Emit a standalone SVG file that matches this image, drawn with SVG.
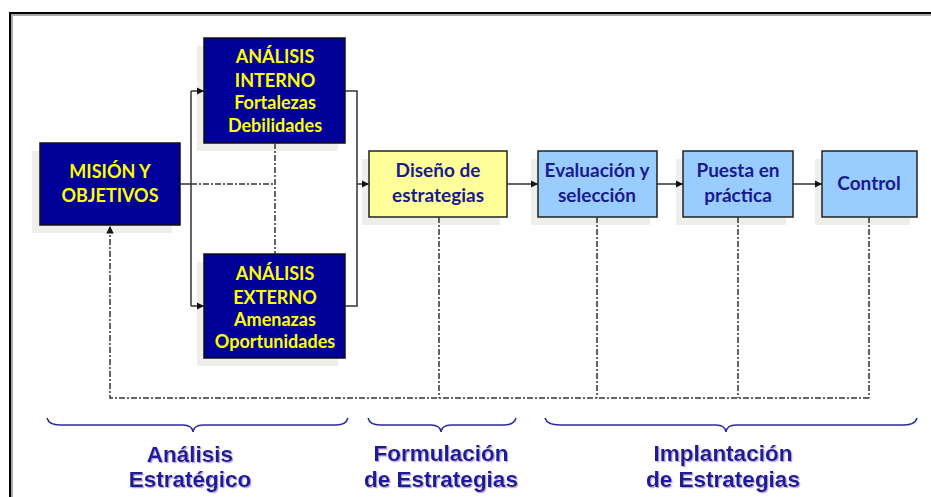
<svg xmlns="http://www.w3.org/2000/svg" width="931" height="497" viewBox="0 0 931 497">
<style>
.shadow{fill:#eeeeea}
.dark{fill:#000099;stroke:#111;stroke-width:1.5}
.yel{fill:#ffff99;stroke:#222;stroke-width:1.5}
.blu{fill:#99ccff;stroke:#222;stroke-width:1.5}
.tw{font-family:Lato,"Liberation Sans",sans-serif;font-weight:bold;font-size:18px;fill:#ffff00;text-anchor:middle}
.tb{font-family:Lato,"Liberation Sans",sans-serif;font-weight:bold;font-size:19px;fill:#1a1a8c;text-anchor:middle}
.lab{font-family:"Liberation Sans",Arial,sans-serif;font-weight:bold;font-size:22.5px;fill:#1c1c98;text-anchor:middle}
.sol{fill:none;stroke:#333;stroke-width:1.5}
.dd{fill:none;stroke:#333;stroke-width:1.5;stroke-dasharray:6 2 2 2}
.brace{fill:none;stroke:#2a2aa0;stroke-width:1.5}
</style>
<defs>
<marker id="arr" viewBox="0 0 10 10" refX="10" refY="5" markerWidth="5" markerHeight="5" orient="auto">
<path d="M0,0 L10,5 L0,10 z" fill="#111"/>
</marker>
<filter id="ts" x="-5%" y="-5%" width="110%" height="120%">
<feDropShadow dx="1.2" dy="1.2" stdDeviation="0.3" flood-color="#b49ad6" flood-opacity="0.9"/>
</filter>
</defs>

<!-- frame -->
<path d="M12,497 V15 H931" fill="none" stroke="#aaa" stroke-width="2"/>
<path d="M10,497 V13 H931" fill="none" stroke="#000" stroke-width="2"/>

<g id="mision">
<rect class="shadow" x="32" y="151" width="140" height="82"/>
<rect class="dark" x="40" y="143" width="140" height="82"/>
<text class="tw" x="110" y="178">MISIÓN Y</text>
<text class="tw" x="110" y="202">OBJETIVOS</text>
</g>

<g id="interno">
<rect class="shadow" x="197" y="46" width="141" height="105"/>
<rect class="dark" x="204" y="38" width="141" height="105"/>
<text class="tw" x="275" y="63">ANÁLISIS</text>
<text class="tw" x="275" y="87">INTERNO</text>
<text class="tw" x="275" y="109">Fortalezas</text>
<text class="tw" x="275" y="132">Debilidades</text>
</g>

<g id="externo">
<rect class="shadow" x="197" y="262" width="141" height="104"/>
<rect class="dark" x="204" y="254" width="141" height="104"/>
<text class="tw" x="275" y="280">ANÁLISIS</text>
<text class="tw" x="275" y="304">EXTERNO</text>
<text class="tw" x="275" y="326">Amenazas</text>
<text class="tw" x="275" y="348">Oportunidades</text>
</g>

<g id="diseno">
<rect class="shadow" x="362" y="159" width="138" height="66"/>
<rect class="yel" x="369" y="151" width="138" height="66"/>
<text class="tb" x="438" y="177">Diseño de</text>
<text class="tb" x="438" y="202">estrategias</text>
</g>

<g id="evaluacion">
<rect class="shadow" x="531" y="159" width="119" height="66"/>
<rect class="blu" x="538" y="151" width="119" height="66"/>
<text class="tb" x="597" y="177">Evaluación y</text>
<text class="tb" x="597" y="202">selección</text>
</g>

<g id="puesta">
<rect class="shadow" x="676" y="159" width="110" height="66"/>
<rect class="blu" x="683" y="151" width="110" height="66"/>
<text class="tb" x="738" y="177">Puesta en</text>
<text class="tb" x="738" y="202">práctica</text>
</g>

<g id="control">
<rect class="shadow" x="815" y="159" width="95" height="66"/>
<rect class="blu" x="822" y="151" width="95" height="66"/>
<text class="tb" x="869" y="190">Control</text>
</g>

<g id="connectors">
<path class="sol" d="M180,184 H191"/>
<path class="sol" d="M191,91 V306"/>
<path class="sol" d="M191,91 H204" marker-end="url(#arr)"/>
<path class="sol" d="M191,306 H204" marker-end="url(#arr)"/>
<path class="sol" d="M345,91 H357 V306 H345"/>
<path class="sol" d="M357,184 H369" marker-end="url(#arr)"/>
<path class="sol" d="M507,184 H538" marker-end="url(#arr)"/>
<path class="sol" d="M657,184 H683" marker-end="url(#arr)"/>
<path class="sol" d="M793,184 H822" marker-end="url(#arr)"/>
<path class="dd" d="M191,184 H275"/>
<path class="dd" d="M275,143 V254"/>
<path class="dd" d="M439,217 V398"/>
<path class="dd" d="M597,217 V398"/>
<path class="dd" d="M738,217 V398"/>
<path class="dd" d="M869,217 V398"/>
<path class="dd" d="M869,398 H110 V226" marker-end="url(#arr)"/>
</g>

<g id="brace-analisis">
<path class="brace" d="M47,418 Q49,425 60,425 H183 Q192,425 193,432 Q194,425 203,425 H336 Q346,425 348,418"/>
<text class="lab" x="190" y="462" filter="url(#ts)">Análisis</text>
<text class="lab" x="190" y="487" filter="url(#ts)">Estratégico</text>
</g>

<g id="brace-formulacion">
<path class="brace" d="M368,418 Q370,425 380,425 H431 Q440,425 441,432 Q442,425 451,425 H504 Q514,425 516,418"/>
<text class="lab" x="441" y="461" filter="url(#ts)">Formulación</text>
<text class="lab" x="441" y="487" filter="url(#ts)">de Estrategias</text>
</g>

<g id="brace-implantacion">
<path class="brace" d="M545,418 Q547,425 560,425 H716 Q725,425 726,432 Q727,425 736,425 H904 Q915,425 917,418"/>
<text class="lab" x="723" y="461" filter="url(#ts)">Implantación</text>
<text class="lab" x="723" y="487" filter="url(#ts)">de Estrategias</text>
</g>
</svg>
